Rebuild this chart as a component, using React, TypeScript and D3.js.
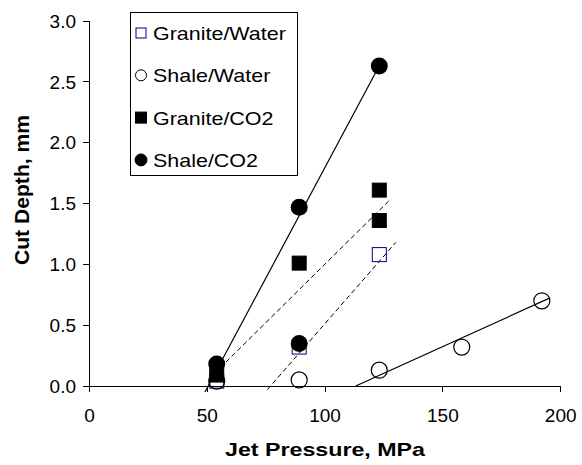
import React from "react";
import * as d3 from "d3";

// Jet pressure (MPa) vs cut depth (mm)
const graniteWaterX = [54, 89, 123];
const graniteWaterY = [0.04, 0.32, 1.08];

const shaleWaterX = [54, 89, 123, 158, 192];
const shaleWaterY = [0.04, 0.05, 0.13, 0.32, 0.7];

const graniteCo2X = [54, 89, 123, 123];
const graniteCo2Y = [0.09, 1.01, 1.36, 1.61];

const shaleCo2X = [54, 89, 89, 123];
const shaleCo2Y = [0.18, 1.47, 0.35, 2.63];

// trend lines, [start, end]
const shaleCo2Fit = [[49, -0.05], [123.5, 2.65]];
const graniteCo2Fit = [[55.5, 0.15], [127, 1.52]];
const graniteWaterFit = [[75.5, -0.03], [130, 1.18]];
const shaleWaterFit = [[113, 0], [195, 0.72]];

const xTicks = [0, 50, 100, 150, 200];
const yTicks = [0, 0.5, 1, 1.5, 2, 2.5, 3];
const legendLabels = ["Granite/Water", "Shale/Water", "Granite/CO2", "Shale/CO2"];

const W = 582;
const H = 465;
const FONT = "Arial, 'Liberation Sans', sans-serif";

const zip = (xs: number[], ys: number[]) => xs.map((x, i) => [x, ys[i]]);

const App: React.FC = () => {
  const x = d3.scaleLinear().domain([0, 200]).range([89.5, 560.7]);
  const y = d3.scaleLinear().domain([0, 3]).range([386, 21]);
  const line = d3
    .line<number[]>()
    .x((d) => x(d[0]))
    .y((d) => y(d[1]));

  const square = (cx: number, cy: number, s: number, fill: string, stroke: string, key: string) => (
    <rect key={key} x={cx - s / 2} y={cy - s / 2} width={s} height={s} fill={fill} stroke={stroke} strokeWidth={1} />
  );

  // legend marker renderers
  const legendMarker = (i: number, cx: number, cy: number) => {
    if (i === 0) return square(cx, cy, 10, "none", "#000080", "lm0");
    if (i === 1) return <circle key="lm1" cx={cx} cy={cy} r={5.5} fill="none" stroke="#000" />;
    if (i === 2) return square(cx, cy, 11, "#000", "#000", "lm2");
    return <circle key="lm3" cx={cx} cy={cy} r={6} fill="#000" stroke="#000" />;
  };

  return (
    <svg width={W} height={H} style={{ position: "fixed", left: 0, top: 0, background: "#fff" }} fontFamily={FONT}>
      <rect width={W} height={H} fill="#fff" />

      {/* axes */}
      <g stroke="#000" strokeWidth={1} shapeRendering="crispEdges">
        <line x1={x(0)} x2={x(0)} y1={y(3)} y2={y(0)} />
        <line x1={x(0)} x2={x(200)} y1={y(0)} y2={y(0)} />
        {xTicks.map((t) => (
          <line key={"xt" + t} x1={x(t)} x2={x(t)} y1={y(0)} y2={y(0) + 6} />
        ))}
        {yTicks.map((t) => (
          <line key={"yt" + t} x1={x(0) - 7} x2={x(0)} y1={y(t)} y2={y(t)} />
        ))}
      </g>
      {xTicks.map((t) => (
        <text key={"xl" + t} x={x(t)} y={422} fontSize={19} textAnchor="middle" fill="#000">
          {t}
        </text>
      ))}
      {yTicks.map((t) => (
        <text key={"yl" + t} x={76} y={y(t) + 6.8} fontSize={19} textAnchor="end" fill="#000">
          {d3.format(".1f")(t)}
        </text>
      ))}

      <text x={325} y={456} fontSize={19} fontWeight="bold" textAnchor="middle" textLength={200} lengthAdjust="spacingAndGlyphs">
        Jet Pressure, MPa
      </text>
      <text
        transform="translate(29,190) rotate(-90)"
        fontSize={20}
        fontWeight="bold"
        textAnchor="middle"
        textLength={150}
        lengthAdjust="spacingAndGlyphs"
      >
        Cut Depth, mm
      </text>

      {/* trend lines */}
      <path d={line(shaleCo2Fit) || ""} stroke="#000" strokeWidth={1.2} fill="none" />
      <path d={line(shaleWaterFit) || ""} stroke="#000" strokeWidth={1.2} fill="none" />
      <path d={line(graniteCo2Fit) || ""} stroke="#000" strokeWidth={1} strokeDasharray="5,3" fill="none" />
      <path d={line(graniteWaterFit) || ""} stroke="#000" strokeWidth={1} strokeDasharray="5,3" fill="none" />

      {/* markers */}
      {zip(graniteWaterX, graniteWaterY).map((d, i) =>
        square(x(d[0]), y(d[1]), 14, "none", "#000080", "gw" + i)
      )}
      {zip(shaleWaterX, shaleWaterY).map((d, i) => (
        <circle key={"sw" + i} cx={x(d[0])} cy={y(d[1])} r={8} fill="none" stroke="#000" strokeWidth={1.2} />
      ))}
      {zip(graniteCo2X, graniteCo2Y).map((d, i) => square(x(d[0]), y(d[1]), 14, "#000", "#000", "gc" + i))}
      {zip(shaleCo2X, shaleCo2Y).map((d, i) => (
        <circle key={"sc" + i} cx={x(d[0])} cy={y(d[1])} r={8.5} fill="#000" />
      ))}

      {/* legend */}
      <rect x={130} y={12} width={167} height={163} fill="#fff" stroke="#000" strokeWidth={1} shapeRendering="crispEdges" />
      {legendLabels.map((l, i) => {
        const cy = 33 + i * 42.3;
        return (
          <g key={"lg" + i}>
            {legendMarker(i, 141, cy)}
            <text transform={`translate(153,${cy + 7}) scale(1.13,1)`} fontSize={19}>
              {l}
            </text>
          </g>
        );
      })}
    </svg>
  );
};

export default App;
